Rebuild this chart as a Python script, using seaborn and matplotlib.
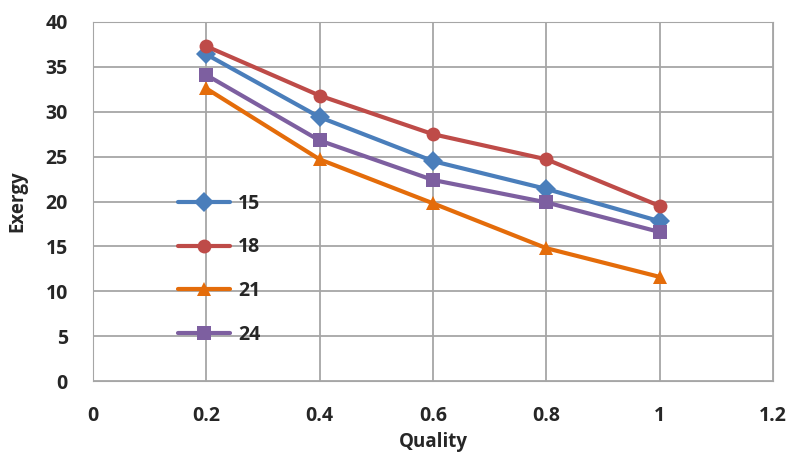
import pandas as pd
import matplotlib
matplotlib.use("Agg")
import matplotlib.pyplot as plt
import seaborn as sns

# Values
quality = [0.2, 0.4, 0.6, 0.8, 1.0]
exergy_15 = [36.4, 29.4, 24.5, 21.4, 17.8]
exergy_18 = [37.3, 31.8, 27.5, 24.7, 19.5]
exergy_21 = [32.6, 24.7, 19.8, 14.8, 11.6]
exergy_24 = [34.1, 26.8, 22.4, 19.9, 16.6]

series_names = ["15", "18", "21", "24"]
colors = ["#4a7ebb", "#be4b48", "#e46c0a", "#7d5fa0"]
markers = ["D", "o", "^", "s"]

# Build a long dataframe for seaborn
df = pd.concat([
    pd.DataFrame({"Quality": quality, "Exergy": vals, "series": name})
    for name, vals in zip(series_names, [exergy_15, exergy_18, exergy_21, exergy_24])
])

sns.set_style("white")
plt.rcParams["font.family"] = ["Open Sans", "DejaVu Sans"]
plt.rcParams["font.weight"] = "bold"

fig = plt.figure(figsize=(7.93, 4.58), dpi=100)
ax = fig.add_axes([0.117, 0.168, 0.858, 0.784])

sns.lineplot(data=df, x="Quality", y="Exergy", hue="series", style="series",
             palette=dict(zip(series_names, colors)),
             markers=dict(zip(series_names, markers)), dashes=False,
             linewidth=3, markersize=10, markeredgewidth=0, ax=ax)

ax.set_xlim(0, 1.2)
ax.set_ylim(0, 40)
ax.set_xticks([0, 0.2, 0.4, 0.6, 0.8, 1.0, 1.2])
ax.set_xticklabels(["0", "0.2", "0.4", "0.6", "0.8", "1", "1.2"])
ax.set_yticks(range(0, 41, 5))
ax.grid(True, color="#a6a6a6", linewidth=1.3)
for s in ax.spines.values():
    s.set_color("#a6a6a6")
ax.tick_params(axis="both", length=0, labelsize=14)
ax.tick_params(axis="x", pad=18)
ax.tick_params(axis="y", pad=18)
for lbl in ax.get_xticklabels() + ax.get_yticklabels():
    lbl.set_fontweight("bold")

ax.set_xlabel("Quality", fontsize=13.5, fontweight="bold")
ax.set_ylabel("Exergy", fontsize=13.5, fontweight="bold")
ax.xaxis.set_label_coords(0.5, -0.142)
ax.yaxis.set_label_coords(-0.096, 0.5)

leg = ax.legend(loc="upper left", bbox_to_anchor=(0.125, 0.522), frameon=False,
                fontsize=14, labelspacing=1.22, handlelength=2.7,
                borderpad=0, borderaxespad=0, handletextpad=0.4)
for t in leg.get_texts():
    t.set_fontweight("bold")

plt.savefig("out.png", dpi=100)
